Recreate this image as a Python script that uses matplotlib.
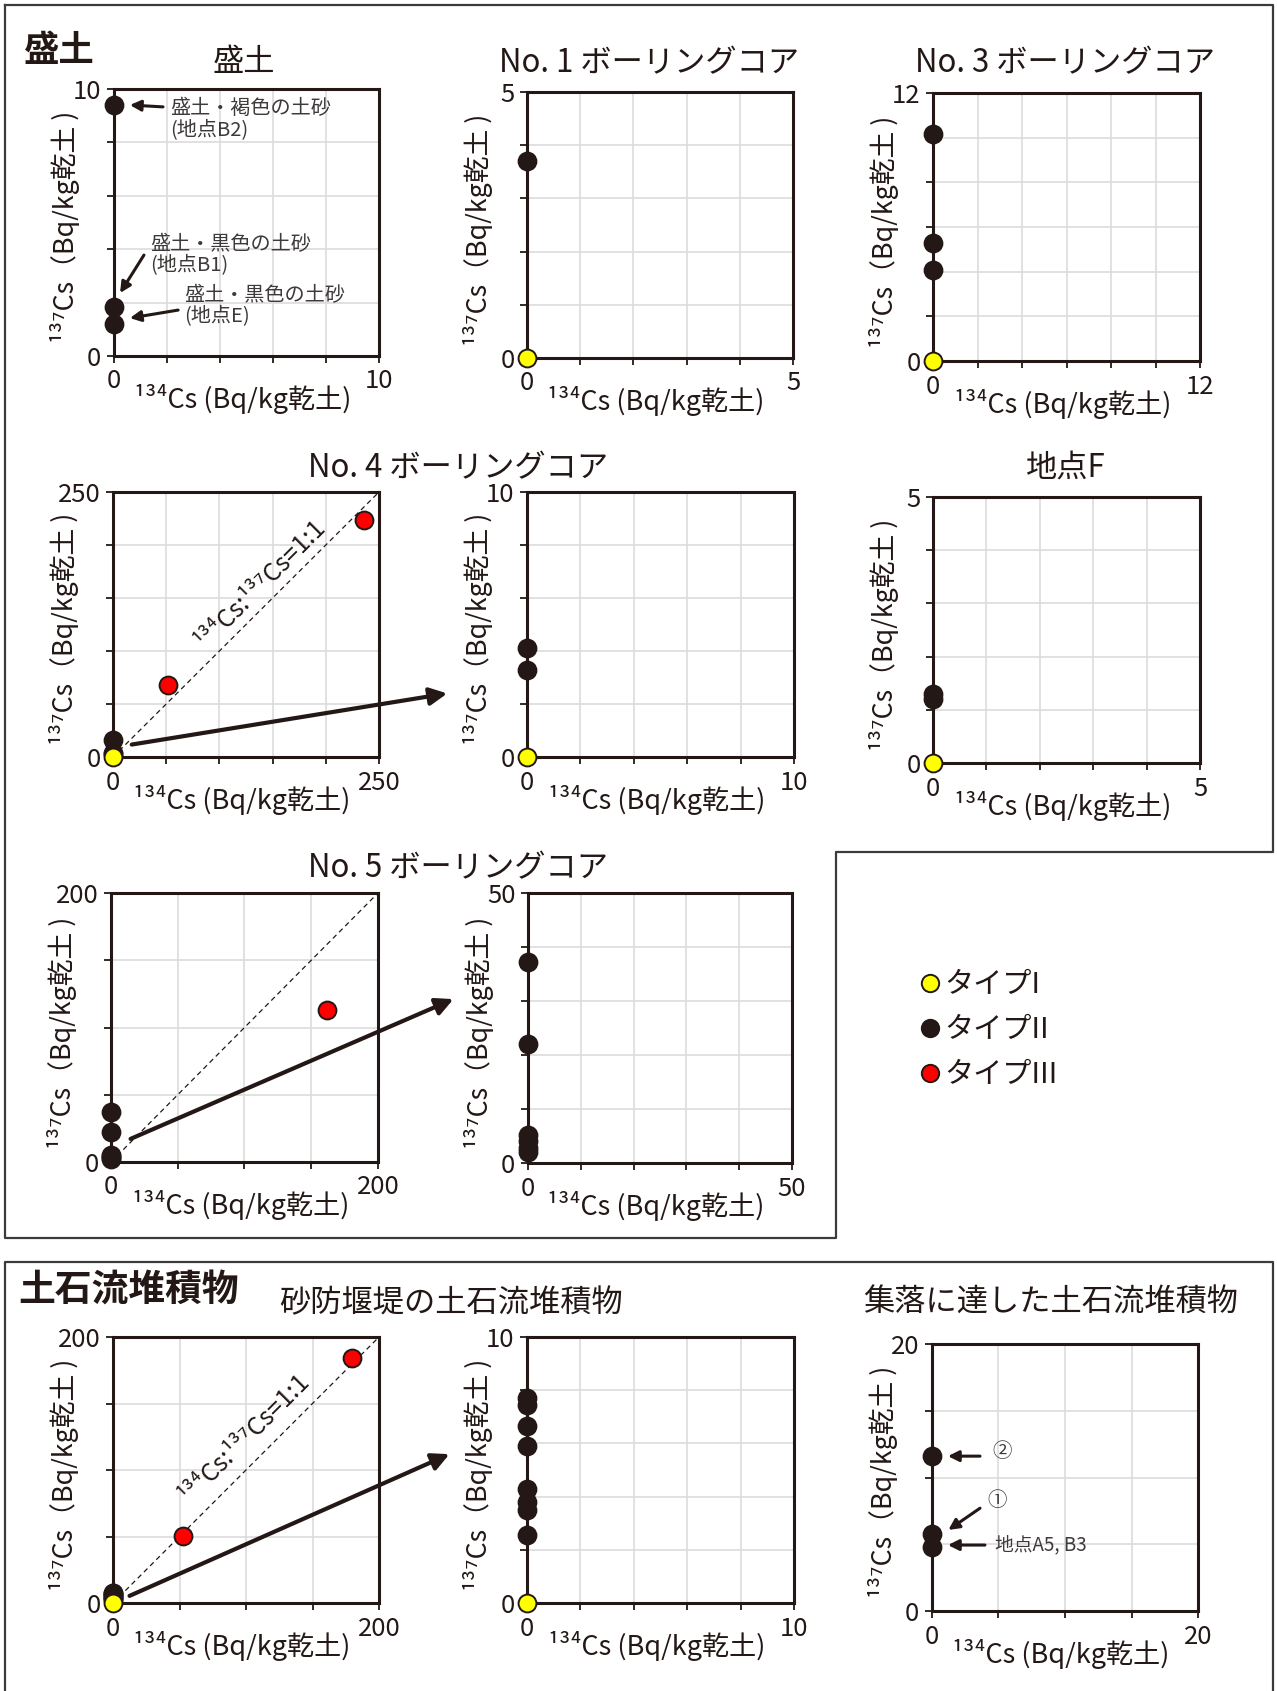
import numpy as np
import matplotlib
matplotlib.use('Agg')
import matplotlib.pyplot as plt
from matplotlib.lines import Line2D
from matplotlib.patches import FancyArrowPatch

plt.rcParams['font.family'] = ['Noto Sans CJK JP', 'DejaVu Sans']

W, H = 1277, 1691
INK = '#231815'
NOTE = '#3e3a39'
GRID = '#dcdcdc'
COL_I = '#ffff00'
COL_II = INK
COL_III = '#ff0000'

XLABEL = '¹³⁴Cs (Bq/kg乾土)'
YLABEL = '¹³⁷Cs（Bq/kg乾土 )'

# ---- data: 134Cs (x) / 137Cs (y), Bq/kg dry soil ----
# 盛土
morido_t2_x = [0, 0, 0]
morido_t2_y = [9.4, 1.85, 1.2]
# No.1 boring core
no1_t1_x, no1_t1_y = [0], [0]
no1_t2_x, no1_t2_y = [0], [3.7]
# No.3 boring core
no3_t1_x, no3_t1_y = [0], [0]
no3_t2_x, no3_t2_y = [0, 0, 0], [10.15, 5.27, 4.07]
# No.4 boring core
no4_t1_x, no4_t1_y = [0], [0]
no4_t2_x, no4_t2_y = [0, 0, 0], [16, 4.1, 3.3]
no4_t3_x, no4_t3_y = [236, 52], [224, 68]
# 地点F
f_t1_x, f_t1_y = [0], [0]
f_t2_x, f_t2_y = [0, 0], [1.3, 1.2]
# No.5 boring core
no5_t2_x = [0, 0, 0, 0, 0, 0]
no5_t2_y = [37.2, 22, 5.2, 4.1, 2.8, 2.0]
no5_t3_x, no5_t3_y = [161.6], [113]
# 砂防堰堤の土石流堆積物
sabo_t1_x, sabo_t1_y = [0], [0]
sabo_t2_x = [0, 0, 0, 0, 0, 0, 0, 0]
sabo_t2_y = [7.7, 7.45, 6.65, 5.9, 4.3, 3.8, 3.5, 2.56]
sabo_t3_x, sabo_t3_y = [179.7, 52.3], [184, 50.6]
# 集落に達した土石流堆積物
vil_t2_x, vil_t2_y = [0, 0, 0], [11.6, 5.8, 4.8]

legend_labels = ['タイプI', 'タイプII', 'タイプIII']


def fx(x):
    return x / W


def fy(y):
    return 1 - y / H


def make_axes(fig, l, t, r, b, vmax, ndiv):
    ax = fig.add_axes([fx(l), fy(b), (r - l) / W, (b - t) / H])
    ax.set_xlim(0, vmax)
    ax.set_ylim(0, vmax)
    ticks = np.linspace(0, vmax, ndiv + 1)
    labels = ['0'] + [''] * (ndiv - 1) + [f'{vmax:g}']
    ax.set_xticks(ticks, labels)
    ax.set_yticks(ticks, labels)
    ax.grid(True, color=GRID, lw=1.2)
    ax.set_axisbelow(True)
    for s in ax.spines.values():
        s.set_linewidth(2.2)
        s.set_color(INK)
    ax.tick_params(direction='out', length=5, width=1.3, color=INK,
                   labelsize=18.5, labelcolor=INK, pad=4)
    # axis labels placed like the original (between the end tick labels)
    ax.text(0.5 - 4 / (r - l), -43 / (b - t), XLABEL, transform=ax.transAxes,
            ha='center', va='center', fontsize=19.5, color=INK)
    ax.text(-49 / (r - l), 0.482, YLABEL, transform=ax.transAxes, rotation=90,
            ha='center', va='center', fontsize=19.3, color=INK)
    return ax


def dots(ax, x, y, color, z=3):
    # points beyond the panel range are left out (zoomed panels)
    x = np.asarray(x, float)
    y = np.asarray(y, float)
    keep = (x <= ax.get_xlim()[1]) & (y <= ax.get_ylim()[1])
    ax.scatter(x[keep], y[keep], s=165, c=color, edgecolors=INK, linewidths=1.4,
               zorder=z, clip_on=False)


def one_to_one(ax, vmax):
    ax.plot([0, vmax], [0, vmax], ls=(0, (4, 3)), lw=0.9, color=INK, zorder=2)


def note_arrow(ax, tail, tip):
    ax.annotate('', xy=tip, xytext=tail,
                arrowprops=dict(arrowstyle='-|>', lw=2.2, color=INK,
                                mutation_scale=16, shrinkA=0, shrinkB=0))


def big_arrow(fig, tail, tip):
    fig.add_artist(FancyArrowPatch((fx(tail[0]), fy(tail[1])), (fx(tip[0]), fy(tip[1])),
                                   transform=fig.transFigure, arrowstyle='-|>',
                                   mutation_scale=26, lw=3, color=INK, zorder=10))


fig = plt.figure(figsize=(W / 100, H / 100), dpi=100)

# section frames
fig.add_artist(Line2D([fx(v) for v in [5, 1273, 1273, 836, 836, 5, 5]],
                      [fy(v) for v in [5, 5, 852, 852, 1238, 1238, 5]],
                      transform=fig.transFigure, color=NOTE, lw=1.6))
fig.add_artist(Line2D([fx(v) for v in [5, 5, 1273, 1273]],
                      [fy(v) for v in [1691, 1262, 1262, 1691]],
                      transform=fig.transFigure, color=NOTE, lw=1.6))

# titles
fig.text(fx(24), fy(50), '盛土', fontsize=25.5, fontweight='bold', color=INK, va='center')
fig.text(fx(18), fy(1290), '土石流堆積物', fontsize=26.5, fontweight='bold', color=INK, va='center')
for txt, cx, cy in [('盛土', 244, 62), ('No. 1 ボーリングコア', 649, 63),
                    ('No. 3 ボーリングコア', 1065, 63), ('No. 4 ボーリングコア', 458, 468),
                    ('地点F', 1066, 468), ('No. 5 ボーリングコア', 458, 868),
                    ('砂防堰堤の土石流堆積物', 451, 1303),
                    ('集落に達した土石流堆積物', 1051, 1303)]:
    fig.text(fx(cx), fy(cy), txt, fontsize=22.5, color=INK, ha='center', va='center')

# 盛土
ax = make_axes(fig, 114, 89, 379, 356, 10, 5)
dots(ax, morido_t2_x, morido_t2_y, COL_II)
ax.text(2.1, 8.86, '盛土・褐色の土砂\n(地点B2)', fontsize=14.5, color=NOTE,
        va='center', linespacing=1.1)
note_arrow(ax, (1.85, 9.33), (0.6, 9.4))
ax.text(1.36, 3.78, '盛土・黒色の土砂\n(地点B1)', fontsize=14.5, color=NOTE,
        va='center', linespacing=0.95)
note_arrow(ax, (1.13, 3.78), (0.23, 2.36))
ax.text(2.64, 1.87, '盛土・黒色の土砂\n(地点E)', fontsize=14.5, color=NOTE,
        va='center', linespacing=0.95)
note_arrow(ax, (2.42, 1.72), (0.6, 1.42))

# No.1
ax = make_axes(fig, 527, 92, 793, 358, 5, 5)
dots(ax, no1_t2_x, no1_t2_y, COL_II)
dots(ax, no1_t1_x, no1_t1_y, COL_I, 4)

# No.3
ax = make_axes(fig, 933, 93, 1200, 361, 12, 6)
dots(ax, no3_t2_x, no3_t2_y, COL_II)
dots(ax, no3_t1_x, no3_t1_y, COL_I, 4)

# No.4 full and zoom
ax = make_axes(fig, 113, 492, 379, 757, 250, 5)
one_to_one(ax, 250)
ax.text(139, 163, '¹³⁴Cs:¹³⁷Cs=1:1', rotation=45, fontsize=18, color=INK,
        ha='center', va='center', rotation_mode='anchor')
dots(ax, no4_t3_x, no4_t3_y, COL_III)
dots(ax, no4_t2_x, no4_t2_y, COL_II)
dots(ax, no4_t1_x, no4_t1_y, COL_I, 4)
ax = make_axes(fig, 527, 492, 794, 757, 10, 5)
dots(ax, no4_t2_x, no4_t2_y, COL_II)
dots(ax, no4_t1_x, no4_t1_y, COL_I, 4)
big_arrow(fig, (129, 745), (450, 693))

# 地点F
ax = make_axes(fig, 933, 497, 1200, 763, 5, 5)
dots(ax, f_t2_x, f_t2_y, COL_II)
dots(ax, f_t1_x, f_t1_y, COL_I, 4)

# No.5 full and zoom
ax = make_axes(fig, 111, 893, 378, 1162, 200, 4)
one_to_one(ax, 200)
dots(ax, no5_t3_x, no5_t3_y, COL_III)
dots(ax, no5_t2_x, no5_t2_y, COL_II)
ax = make_axes(fig, 528, 893, 792, 1163, 50, 5)
dots(ax, no5_t2_x, no5_t2_y, COL_II)
big_arrow(fig, (128, 1140), (456, 998))

# legend
handles = [Line2D([], [], ls='none', marker='o', ms=12.5, mfc=c, mec=INK, mew=1.4)
           for c in (COL_I, COL_II, COL_III)]
fig.legend(handles, legend_labels, loc='center left', bbox_to_anchor=(fx(893), fy(1030)),
           frameon=False, fontsize=21, handlelength=0.75, handletextpad=0.1,
           labelspacing=0.52, labelcolor=INK)

# 砂防堰堤 full and zoom
ax = make_axes(fig, 113, 1337, 379, 1603, 200, 4)
one_to_one(ax, 200)
ax.text(99, 124, '¹³⁴Cs:¹³⁷Cs=1:1', rotation=45, fontsize=18, color=INK,
        ha='center', va='center', rotation_mode='anchor')
dots(ax, sabo_t3_x, sabo_t3_y, COL_III)
dots(ax, sabo_t2_x, sabo_t2_y, COL_II)
dots(ax, sabo_t1_x, sabo_t1_y, COL_I, 4)
ax = make_axes(fig, 527, 1337, 794, 1603, 10, 5)
dots(ax, sabo_t2_x, sabo_t2_y, COL_II)
dots(ax, sabo_t1_x, sabo_t1_y, COL_I, 4)
big_arrow(fig, (127, 1597), (452, 1453))

# 集落
ax = make_axes(fig, 932, 1344, 1198, 1611, 20, 4)
dots(ax, vil_t2_x, vil_t2_y, COL_II)
ax.text(5.24, 11.95, '②', fontsize=14, color=NOTE, ha='center', va='center')
note_arrow(ax, (3.61, 11.6), (1.2, 11.6))
ax.text(4.87, 8.3, '①', fontsize=14, color=NOTE, ha='center', va='center')
note_arrow(ax, (3.61, 7.7), (1.23, 6.07))
ax.text(4.74, 4.94, '地点A5, B3', fontsize=13.5, color=NOTE, va='center')
note_arrow(ax, (3.98, 4.94), (1.2, 4.94))

fig.savefig('out.png', dpi=100)
